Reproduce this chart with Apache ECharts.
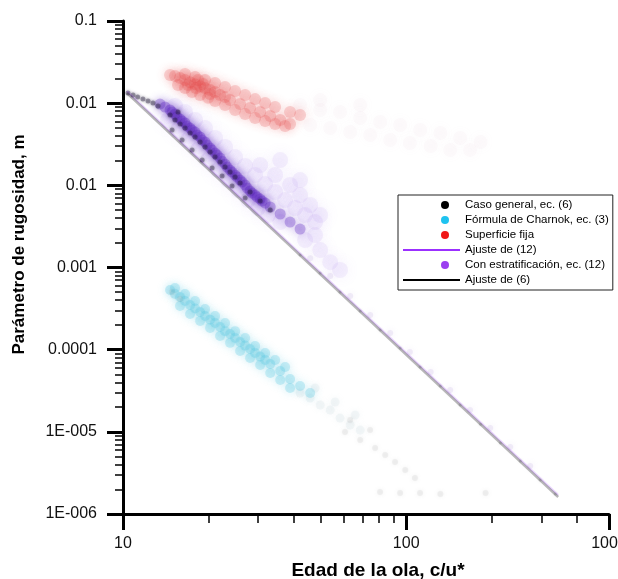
<!DOCTYPE html>
<html><head><meta charset="utf-8">
<script src="https://cdn.jsdelivr.net/npm/echarts@6/dist/echarts.min.js"></script>
<style>html,body{margin:0;padding:0;background:#fff}#c{width:618px;height:579px}</style>
</head><body><div id="c"></div>
<script>
// ---- axis ticks ----
const xTickValues = [10, 100, 520];
const xTickLabels = ['10', '100', '1000'];
const xMinorTicks = [20, 30, 40, 50, 60, 70, 80, 90, 200, 300, 400];
const yTickValues = [1e-6, 1e-5, 1e-4, 1e-3, 1e-2, 1e-1, 1];
const yTickLabels = ['1E-006', '1E-005', '0.0001', '0.001', '0.01', '0.01', '0.1'];
const yMinorTicks = [2e-6,3e-6,4e-6,5e-6,6e-6,7e-6,8e-6,9e-6,
  2e-5,3e-5,4e-5,5e-5,6e-5,7e-5,8e-5,9e-5,
  2e-4,3e-4,4e-4,5e-4,6e-4,7e-4,8e-4,9e-4,
  0.002,0.003,0.004,0.005,0.006,0.007,0.008,0.009,
  0.02,0.03,0.04,0.05,0.06,0.07,0.08,0.09,
  0.2,0.3,0.4,0.5,0.6,0.7,0.8,0.9];

// ---- series names ----
const names = {
  caso: 'Caso general, ec. (6)',
  charnok: 'Fórmula de Charnok, ec. (3)',
  fija: 'Superficie fija',
  fit12: 'Ajuste de (12)',
  estrat: 'Con estratificación, ec. (12)',
  fit6: 'Ajuste de (6)'
};

// ---- data [c/u*, z0] ----
const superficieFija = [
  [14.66,0.220],[15.26,0.214],[15.9,0.202],[16.56,0.191],[17.25,0.180],[17.97,0.170],[18.72,0.161],[19.49,0.153],[20.3,0.145],[21.14,0.137],[22.02,0.126],[22.93,0.119],[23.88,0.109],[25.91,0.0977],[28.1,0.0874],[30.5,0.0780],[33.1,0.0698],[35.9,0.0624],[38.9,0.0558],
  [15.64,0.166],[16.56,0.153],[17.53,0.137],[18.72,0.126],[19.97,0.116],[21.14,0.106],[22.93,0.095],[24.88,0.0826],[26.99,0.0738],[29.27,0.066],[31.76,0.0607],[34.45,0.0557],[37.37,0.0527],
  [16.56,0.226],[17.97,0.208],[19.49,0.191],[21.14,0.176],[22.93,0.157],[24.88,0.141],[26.99,0.126],[29.27,0.112],[31.76,0.1005],[34.45,0.0898],[38.9,0.0781],[42.2,0.0718],
  [16.97,0.166],[18.12,0.153],[19.18,0.171],[20.3,0.129],[18.42,0.191]
];
const superficieFijaFaint = [
  [42.2,0.095],[49.7,0.0826],[58.4,0.0781],[68.8,0.066],[80.9,0.059],[95.2,0.0542],[112,0.0471],[132,0.0433],[155,0.0376],[183,0.0336],
  [45.8,0.0542],[53.9,0.0498],[63.4,0.0445],[74.6,0.041],[87.8,0.0356],[103,0.0327],[122,0.0301],[143,0.0269],[168,0.0269],[49.7,0.109],[68.8,0.095]
];
const estratificacionCore = [
  [13.51,0.0975],[14.07,0.0898],[14.66,0.0826],[15.26,0.0738],[15.9,0.0642],[16.56,0.0574],[17.25,0.0498],[17.97,0.0445],[18.72,0.0388],[19.49,0.0337],[20.3,0.0285],[21.14,0.0247],[22.02,0.0215],[22.93,0.0181],[23.88,0.01535],[24.88,0.01336],[25.91,0.0116],[26.99,0.01009],[28.1,0.00853],[29.27,0.00762],[30.5,0.00681],[31.76,0.00609],[33.1,0.00545],[35.9,0.00448],[38.9,0.00357],[42.2,0.00294],
  [14.9,0.0781],[15.51,0.0679],[16.16,0.0607],[16.83,0.0527],[17.53,0.0471],[18.27,0.041],[19.03,0.0356],[19.81,0.031],[20.63,0.0269],[21.49,0.0234],[22.38,0.0197],[23.31,0.0167],[24.27,0.0145],[25.29,0.0126],[26.33,0.011],[27.43,0.00928],[28.56,0.00806],[29.75,0.0072],[31.0,0.00644]
];
const estratificacionHalo = [
  [15.26,0.0924],[16.56,0.0781],[17.97,0.0624],[19.49,0.0498],[21.14,0.0377],[22.93,0.0293],[24.88,0.0221],[26.99,0.0172],[29.27,0.01336],[31.76,0.01037],[34.45,0.00829],[37.37,0.00662],[40.54,0.0053],[43.95,0.00435],[47.7,0.00357],
  [30.5,0.01768],[34.45,0.01336],[38.9,0.01009],[42.2,0.00762],[45.8,0.00576],[49.7,0.00435],[35.9,0.0203],[42.2,0.0116],
  [14.42,0.0624],[15.64,0.0471],[16.97,0.0356],[18.42,0.0269],[19.97,0.0203],[21.66,0.01535],[23.49,0.0116],[25.49,0.00877],[27.65,0.00662],[30.0,0.0053],[32.57,0.00435],[35.9,0.00357],
  [43.95,0.00216],[49.7,0.00163],[47.7,0.00248],[53.9,0.00116],[58.4,0.000932]
];
const estratificacionTail = [
  [45.8,0.0013],[53.9,0.000789],[63.4,0.000449],[74.6,0.000264],[87.8,0.00016],[103,0.0000937],[122,0.0000534],[143,0.0000323],[168,0.0000184],[198,0.0000111],[233,6.54e-6],[274,3.84e-6]
];
const casoGeneral = [
  [10.41,0.1333],[10.85,0.1257],[11.27,0.1189],[11.76,0.112],[12.26,0.106],[12.76,0.1003],[13.29,0.0924],
  [14.66,0.0718],[15.26,0.0624],[15.9,0.0557],[16.56,0.0498],[17.25,0.0433],[17.97,0.0388],[18.72,0.0337],[19.49,0.0293],[20.3,0.0254],[21.14,0.0221],[22.02,0.0192],[22.93,0.0167],[23.88,0.0145],[24.88,0.0126],[25.91,0.01066],[28.1,0.00829],[30.5,0.00644],[33.1,0.00501],
  [14.9,0.0471],[16.16,0.0356],[17.53,0.0269],[19.03,0.0203],[20.63,0.01623],[22.38,0.013],[24.27,0.00981],[26.99,0.007],[15.64,0.0781]
];
const casoGeneralTail = [
  [42.2,0.00142],[49.7,0.000857],[58.4,0.000503],[68.8,0.000296],[80.9,0.000173],[95.2,0.000105],[112,0.0000615],[132,0.0000361],[155,0.0000212],[183,0.0000124],[215,7.32e-6],[253,4.41e-6],[297,2.59e-6],[336,1.75e-6]
];
const casoGeneralFaint = [
  [60.8,9.93e-6],[68.8,7.96e-6],[77.7,6.36e-6],[84.3,5.23e-6],[91.4,4.29e-6],[99.2,3.43e-6],[107.3,2.74e-6],
  [80.9,1.85e-6],[95.2,1.80e-6],[112,1.80e-6],[132,1.75e-6],[190.6,1.80e-6],[63.4,0.0000139],[74.6,0.0000105],
  [14.9,0.000503],[15.9,0.000413]
];
const charnok = [
  [14.66,0.000532],[15.26,0.000475],[15.9,0.000437],[16.56,0.000391],[17.25,0.00035],[17.97,0.000317],[18.72,0.000287],[19.49,0.000257],[20.3,0.000232],[21.14,0.000211],[22.02,0.000189],[22.93,0.000168],[23.88,0.000155],[24.88,0.000139],[25.91,0.000124],[26.99,0.000112],[28.1,0.000102],[29.27,0.0000911],[30.5,0.0000823],[31.76,0.0000748],[33.1,0.0000668],[35.9,0.0000549],[38.9,0.0000439],[42.2,0.0000361],[45.8,0.0000297],
  [15.26,0.000563],[16.56,0.000475],[17.97,0.000391],[19.49,0.000313],[21.14,0.000257],[22.93,0.000211],[24.88,0.000168],[26.99,0.000139],[29.27,0.000111],[31.76,0.0000911],[34.45,0.0000748],[37.37,0.0000615],
  [15.9,0.00034],[17.25,0.000272],[18.72,0.000224],[20.3,0.000184],[22.02,0.000147],[23.88,0.000121],[25.91,0.0000964],[28.1,0.0000791],[30.5,0.000065],[33.1,0.0000519],[35.9,0.0000427],[38.9,0.0000341]
];
const charnokFaint = [
  [42.2,0.0000297],[45.8,0.0000258],[49.7,0.0000212],[53.9,0.0000184],[58.4,0.0000147],[63.4,0.0000121],[68.8,0.0000105],[47.7,0.0000341],[56.1,0.0000231],[66.0,0.000016]
];
const fitAjuste6 = [[10.33, 0.133], [344, 1.61e-6]];
const fitAjuste12 = [[10.33, 0.140], [344, 1.70e-6]];

// ---- colours ----
const colors = {
  caso: '#000000', charnok: '#1ec3f0', fija: '#f01818',
  fit12: '#9b30ff', estrat: '#9b3ff0', fit6: '#000000'
};

const dotIcon = 'path://M0,0L0,0M0,8L0,8M57,0L57,0M38,4A4,4,0,1,1,46,4A4,4,0,1,1,38,4Z';
const lineIcon = 'path://M0,0L0,0M0,8L0,8M0,3L57,3L57,5L0,5Z';
const FONT = 'Liberation Sans, Arial, sans-serif';

function scatter(name, data, color, size, opacity, blur) {
  return {
    type: 'scatter', name: name, data: data, symbol: 'circle', symbolSize: size,
    itemStyle: { color: color, opacity: opacity, shadowBlur: blur || 0, shadowColor: color },
    silent: true, xAxisIndex: 0, yAxisIndex: 0
  };
}
function fitLine(name, data, color, width, opacity) {
  return {
    type: 'line', name: name, data: data, symbol: 'none', silent: true,
    lineStyle: { color: color, width: width, opacity: opacity }, itemStyle: { color: color },
    xAxisIndex: 0, yAxisIndex: 0, z: 5
  };
}

const chart = echarts.init(document.getElementById('c'), null, { renderer: 'canvas' });
chart.setOption({
  animation: false,
  backgroundColor: '#ffffff',
  textStyle: { fontFamily: FONT },
  grid: { left: 123, right: 9, top: 21, bottom: 65, containLabel: false, outerBoundsMode: 'none' },
  legend: {
    orient: 'vertical', left: 398, top: 195,
    padding: [4, 4, 4, 5], itemGap: 3,
    itemWidth: 57, itemHeight: 8,
    borderColor: '#222', borderWidth: 1,
    backgroundColor: '#ffffff',
    textStyle: { fontSize: 11.5, color: '#000', fontFamily: FONT },
    selectedMode: false,
    data: [
      { name: names.caso, icon: dotIcon, itemStyle: { color: colors.caso, opacity: 1, shadowBlur: 0 } },
      { name: names.charnok, icon: dotIcon, itemStyle: { color: colors.charnok, opacity: 1, shadowBlur: 0 } },
      { name: names.fija, icon: dotIcon, itemStyle: { color: colors.fija, opacity: 1, shadowBlur: 0 } },
      { name: names.fit12, icon: lineIcon, itemStyle: { color: colors.fit12, opacity: 1 } },
      { name: names.estrat, icon: dotIcon, itemStyle: { color: colors.estrat, opacity: 1, shadowBlur: 0 } },
      { name: names.fit6, icon: lineIcon, itemStyle: { color: colors.fit6, opacity: 1 } }
    ]
  },
  xAxis: [{
    type: 'log', logBase: 10, min: 10, max: 520,
    name: 'Edad de la ola, c/u*', nameLocation: 'middle', nameGap: 47,
    nameTextStyle: { fontSize: 19, fontWeight: 'bold', color: '#000', padding: [0, 0, 0, 24] },
    axisLine: { lineStyle: { color: '#000', width: 3 } },
    axisTick: { show: true, inside: false, length: 16, lineStyle: { color: '#000', width: 3 }, customValues: xTickValues },
    axisLabel: { margin: 22, fontSize: 16, color: '#111', customValues: xTickValues,
      formatter: function (v) { const i = xTickValues.findIndex(t => Math.abs(t - v) / t < 1e-6); return i >= 0 ? xTickLabels[i] : ''; } },
    splitLine: { show: false }, minorTick: { show: false }
  }, {
    type: 'log', logBase: 10, min: 10, max: 520, position: 'bottom',
    axisLine: { show: false },
    axisTick: { show: true, length: 9, lineStyle: { color: '#000', width: 1.5 }, customValues: xMinorTicks },
    axisLabel: { show: false }, splitLine: { show: false }
  }],
  yAxis: [{
    type: 'log', logBase: 10, min: 1e-6, max: 1,
    name: 'Parámetro de rugosidad, m', nameLocation: 'middle', nameGap: 95,
    nameTextStyle: { fontSize: 17, fontWeight: 'bold', color: '#000', padding: [0, 0, 0, 46] },
    axisLine: { lineStyle: { color: '#000', width: 3 } },
    axisTick: { show: true, length: 16, lineStyle: { color: '#000', width: 3 }, customValues: yTickValues },
    axisLabel: { margin: 26, fontSize: 16, color: '#111', customValues: yTickValues,
      formatter: function (v) { const i = Math.round(Math.log10(v)) + 6; return yTickLabels[i]; } },
    splitLine: { show: false }
  }, {
    type: 'log', logBase: 10, min: 1e-6, max: 1, position: 'left',
    axisLine: { show: false },
    axisTick: { show: true, length: 8, lineStyle: { color: '#000', width: 1.5 }, customValues: yMinorTicks },
    axisLabel: { show: false }, splitLine: { show: false }
  }],
  series: [
    scatter(names.fija, superficieFijaFaint, '#d8a0b0', 14, 0.045, 10),
    scatter(names.fija, superficieFija, '#e84848', 12, 0.2, 10),
    scatter(names.charnok, charnokFaint, '#9ab8c4', 9, 0.1, 6),
    scatter(names.charnok, charnok, '#58c8e4', 10, 0.28, 8),
    scatter(names.estrat, estratificacionHalo, '#9a6ae8', 16, 0.09, 14),
    scatter(names.estrat, estratificacionCore, '#5a20c0', 11, 0.3, 8),
    scatter(names.estrat, estratificacionTail, '#a890d8', 6, 0.14, 6),
    scatter(names.caso, casoGeneral, '#1a1030', 5, 0.35, 3),
    scatter(names.caso, casoGeneralTail, '#606068', 3, 0.18, 3),
    scatter(names.caso, casoGeneralFaint, '#888888', 6, 0.1, 4),
    fitLine(names.fit12, fitAjuste12, colors.fit12, 2, 0.2),
    fitLine(names.fit6, fitAjuste6, colors.fit6, 2.5, 0.28)
  ]
});
</script></body></html>
